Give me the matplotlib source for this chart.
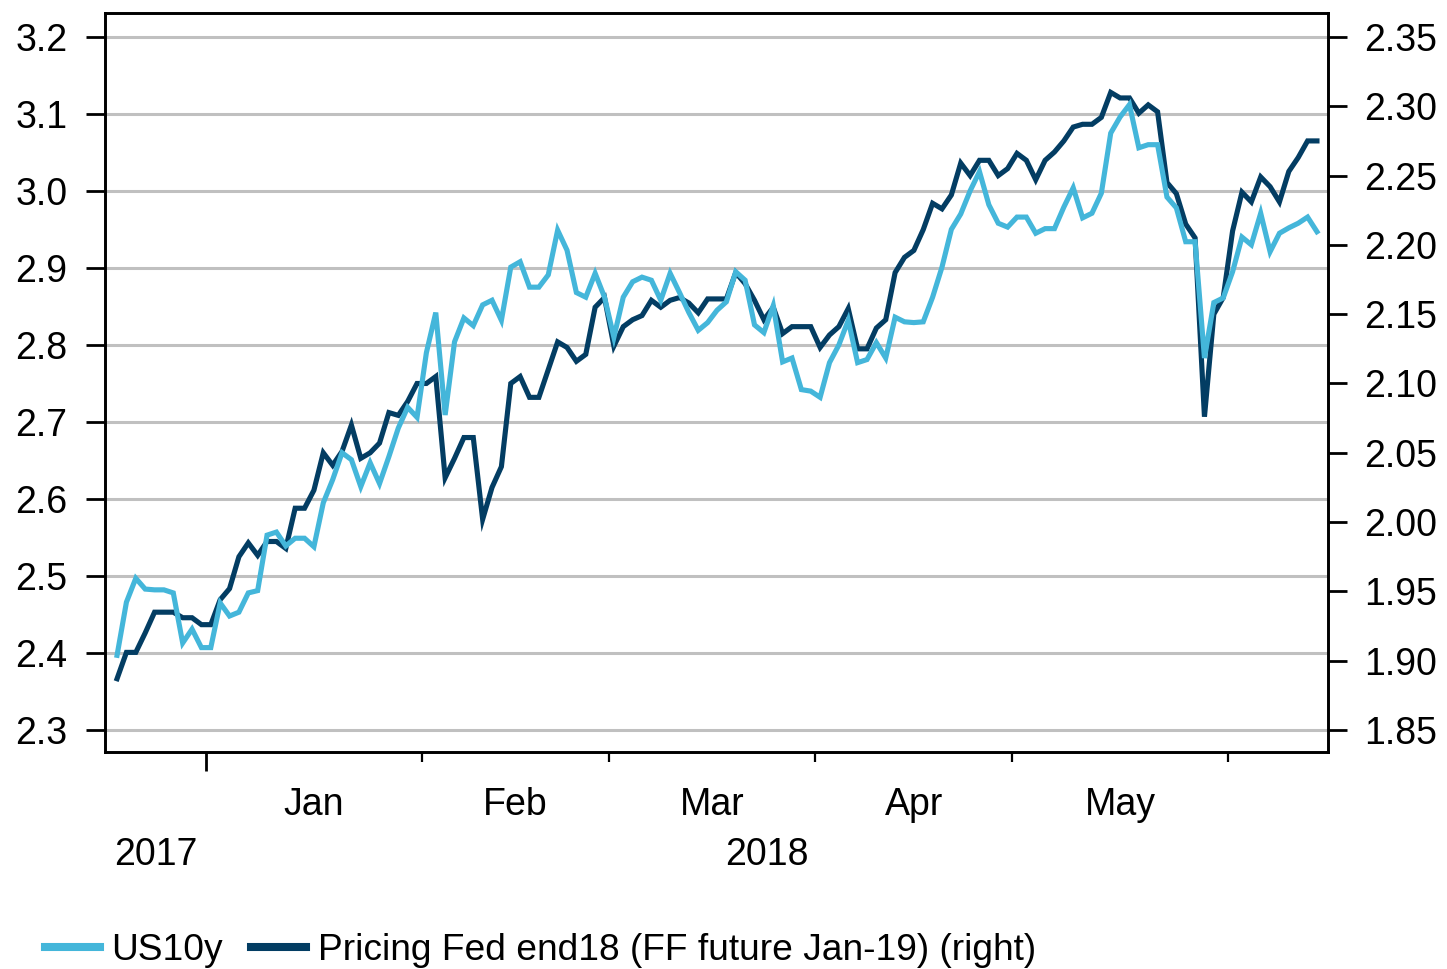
import matplotlib
matplotlib.use('Agg')
import matplotlib.pyplot as plt
import matplotlib.ticker as mticker
import matplotlib.transforms as mtransforms
import numpy as np
import pandas as pd

plt.rcParams['font.family'] = ['Liberation Sans', 'DejaVu Sans']

# business days, Dec 18 2017 -> Jun 14 2018 (chart uses an evenly spaced business-day axis)
start_date = '2017-12-18'

us10y = [2.397, 2.466, 2.497, 2.483, 2.482, 2.482, 2.478, 2.413, 2.431, 2.407,
         2.407, 2.465, 2.448, 2.453, 2.478, 2.481, 2.553, 2.557, 2.539, 2.549,
         2.549, 2.538, 2.595, 2.625, 2.660, 2.651, 2.616, 2.647, 2.620, 2.655,
         2.692, 2.719, 2.706, 2.790, 2.842, 2.709, 2.804, 2.835, 2.825, 2.852,
         2.858, 2.832, 2.901, 2.908, 2.875, 2.875, 2.891, 2.949, 2.923, 2.868,
         2.862, 2.893, 2.862, 2.810, 2.862, 2.882, 2.888, 2.884, 2.858, 2.893,
         2.868, 2.842, 2.819, 2.829, 2.845, 2.856, 2.895, 2.884, 2.826, 2.816,
         2.851, 2.778, 2.783, 2.742, 2.740, 2.732, 2.777, 2.800, 2.832, 2.777,
         2.781, 2.803, 2.783, 2.836, 2.830, 2.829, 2.830, 2.862, 2.901, 2.950,
         2.970, 3.000, 3.025, 2.982, 2.958, 2.953, 2.966, 2.966, 2.945, 2.951,
         2.951, 2.979, 3.004, 2.965, 2.971, 2.997, 3.075, 3.096, 3.112, 3.056,
         3.060, 3.060, 2.992, 2.978, 2.934, 2.934, 2.783, 2.855, 2.861, 2.895,
         2.940, 2.930, 2.971, 2.921, 2.945, 2.952, 2.958, 2.966, 2.947]

fed_end18 = [1.887, 1.906, 1.906, 1.920, 1.935, 1.935, 1.935, 1.931, 1.931, 1.926,
             1.926, 1.944, 1.952, 1.975, 1.985, 1.976, 1.986, 1.986, 1.981, 2.010,
             2.010, 2.023, 2.050, 2.041, 2.051, 2.070, 2.046, 2.050, 2.057, 2.079,
             2.077, 2.087, 2.100, 2.100, 2.105, 2.032, 2.046, 2.061, 2.061, 2.002,
             2.025, 2.040, 2.100, 2.105, 2.090, 2.090, 2.110, 2.130, 2.126, 2.116,
             2.121, 2.155, 2.162, 2.127, 2.141, 2.146, 2.149, 2.160, 2.155, 2.160,
             2.162, 2.158, 2.151, 2.161, 2.161, 2.161, 2.180, 2.172, 2.160, 2.146,
             2.155, 2.136, 2.141, 2.141, 2.141, 2.126, 2.135, 2.141, 2.154, 2.125,
             2.125, 2.140, 2.146, 2.180, 2.191, 2.196, 2.211, 2.230, 2.226, 2.236,
             2.259, 2.250, 2.261, 2.261, 2.250, 2.255, 2.266, 2.261, 2.247, 2.261,
             2.267, 2.275, 2.285, 2.287, 2.287, 2.292, 2.310, 2.306, 2.306, 2.295,
             2.301, 2.296, 2.245, 2.237, 2.215, 2.205, 2.076, 2.150, 2.162, 2.210,
             2.238, 2.231, 2.249, 2.242, 2.231, 2.253, 2.263, 2.275, 2.275]

left_ticks = [2.3, 2.4, 2.5, 2.6, 2.7, 2.8, 2.9, 3.0, 3.1, 3.2]
right_ticks = [1.85, 1.90, 1.95, 2.00, 2.05, 2.10, 2.15, 2.20, 2.25, 2.30, 2.35]

light = '#44b6da'
dark = '#033d63'
fs = 27

dates = pd.bdate_range(start_date, periods=len(us10y))
pos = np.arange(len(dates))
xlim = (-1.28, len(dates) + 0.2)

# month boundaries on the business-day axis
month_id = dates.year * 12 + dates.month
starts = [i for i in range(1, len(dates)) if month_id[i] != month_id[i - 1]]
bounds = [s - 0.5 for s in starts]
full_months = [(bounds[i] + bounds[i + 1]) / 2 for i in range(len(bounds) - 1)]
full_names = [dates[starts[i]].strftime('%b') for i in range(len(bounds) - 1)]
year_start = [s for s in starts if dates[s].month == 1][0] - 0.5

fig = plt.figure(figsize=(14.47, 9.69), dpi=100)
ax = fig.add_axes([0.0726, 0.2239, 0.8453, 0.7627])
ax2 = ax.twinx()

ax.set_ylim(2.2714, 3.231)
ax2.set_ylim(1.8341, 2.3673)
ax.set_xlim(*xlim)

# both lines live in ax so the light one can sit on top; the dark one uses ax2's scale
ax.plot(pos, fed_end18, color=dark, lw=3.7, transform=ax2.transData, zorder=3,
        solid_joinstyle='miter')
ax.plot(pos, us10y, color=light, lw=3.7, zorder=4, solid_joinstyle='miter')

ax.set_yticks(left_ticks)
ax.set_yticklabels([f'{v:.1f}' for v in left_ticks])
ax2.set_yticks(right_ticks)
ax2.set_yticklabels([f'{v:.2f}' for v in right_ticks])
ax.yaxis.grid(True, color='#c0c0c0', lw=2.2)
ax.set_axisbelow(True)

ax.xaxis.set_major_locator(mticker.FixedLocator(bounds))
ax.xaxis.set_major_formatter(mticker.NullFormatter())
ax.xaxis.set_minor_locator(mticker.FixedLocator(full_months))
ax.xaxis.set_minor_formatter(mticker.FixedFormatter(full_names))

ax.tick_params(axis='x', which='major', length=7, width=1.6, direction='out')
ax.tick_params(axis='x', which='minor', length=0, pad=25, labelsize=fs)
ax.tick_params(axis='y', length=14, width=2, pad=13, labelsize=fs)
ax2.tick_params(axis='y', length=14, width=2, pad=12, labelsize=fs)

for sp in list(ax.spines.values()) + list(ax2.spines.values()):
    sp.set_linewidth(1.9)
    sp.set_color('black')

# longer tick at the year boundary
ax.xaxis.get_major_ticks()[0].tick1line.set_markersize(14)
ax.xaxis.get_major_ticks()[0].tick1line.set_markeredgewidth(2)

trans = mtransforms.blended_transform_factory(ax.transData, ax.transAxes)
ax.text((xlim[0] + year_start) / 2, -0.139, str(dates[0].year), transform=trans,
        ha='center', va='center', fontsize=fs)
ax.text((year_start + xlim[1]) / 2, -0.139, str(dates[-1].year), transform=trans,
        ha='center', va='center', fontsize=fs)

h1, = ax.plot([], [], color=light, lw=5.8)
h2, = ax.plot([], [], color=dark, lw=5.8)
fig.legend([h1, h2], ['US10y', 'Pricing Fed end18 (FF future Jan-19) (right)'],
           loc='center left', bbox_to_anchor=(0.031, 0.019), ncol=2, frameon=False,
           fontsize=26.7, handlelength=1.48, handletextpad=0.32, columnspacing=0.75,
           borderpad=0, borderaxespad=0)

fig.savefig('out.png', dpi=100)
